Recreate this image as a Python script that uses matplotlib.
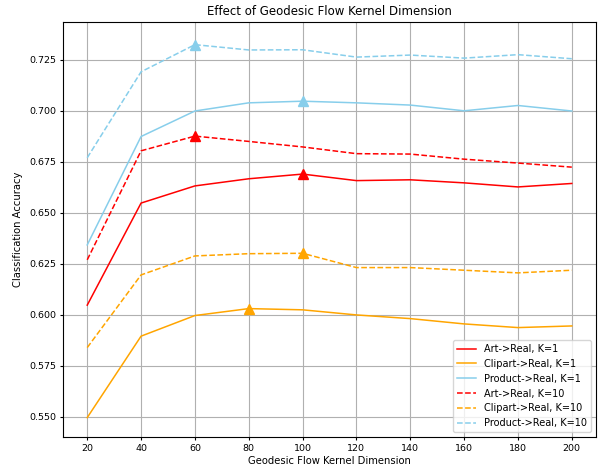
import matplotlib
matplotlib.use("Agg")
import matplotlib.pyplot as plt

dims = [20, 40, 60, 80, 100, 120, 140, 160, 180, 200]

art_k1 = [0.6048, 0.6548, 0.6632, 0.6667, 0.6690, 0.6658, 0.6662, 0.6647, 0.6627, 0.6644]
clipart_k1 = [0.5497, 0.5896, 0.5997, 0.6031, 0.6025, 0.6000, 0.5982, 0.5956, 0.5938, 0.5946]
product_k1 = [0.6343, 0.6874, 0.6999, 0.7039, 0.7047, 0.7039, 0.7028, 0.7000, 0.7026, 0.6999]
art_k10 = [0.6270, 0.6804, 0.6876, 0.6850, 0.6823, 0.6790, 0.6788, 0.6763, 0.6744, 0.6724]
clipart_k10 = [0.5840, 0.6196, 0.6289, 0.6300, 0.6302, 0.6232, 0.6232, 0.6219, 0.6206, 0.6219]
product_k10 = [0.6770, 0.7191, 0.7324, 0.7298, 0.7299, 0.7263, 0.7273, 0.7258, 0.7275, 0.7255]

labels = ["Art->Real, K=1", "Clipart->Real, K=1", "Product->Real, K=1",
          "Art->Real, K=10", "Clipart->Real, K=10", "Product->Real, K=10"]
series = [art_k1, clipart_k1, product_k1, art_k10, clipart_k10, product_k10]
colors = ["red", "orange", "skyblue", "red", "orange", "skyblue"]
styles = ["-", "-", "-", "--", "--", "--"]

fig = plt.figure(figsize=(6.05, 4.67), dpi=100)
ax = fig.add_axes([63 / 605, 30 / 467, 533 / 605, 415 / 467])

for vals, lab, col, ls in zip(series, labels, colors, styles):
    ax.plot(dims, vals, linestyle=ls, color=col, lw=1.1, label=lab)
    # mark the best dimension with a triangle
    best = vals.index(max(vals))
    ax.plot(dims[best], vals[best], marker="^", color=col, markersize=7, linestyle="none")

ax.set_xticks(dims)
ax.set_ylim(0.5402, 0.7435)
ax.grid(True, color="#b0b0b0", lw=0.8)
ax.tick_params(labelsize=6.8, length=2.5, pad=2.5)
ax.set_title("Effect of Geodesic Flow Kernel Dimension", fontsize=8.5, pad=5)
ax.set_xlabel("Geodesic Flow Kernel Dimension", fontsize=7.2, labelpad=2)
ax.set_ylabel("Classification Accuracy", fontsize=7.2, labelpad=4)
ax.legend(loc="lower right", fontsize=7)

fig.savefig("out.png", dpi=100)
